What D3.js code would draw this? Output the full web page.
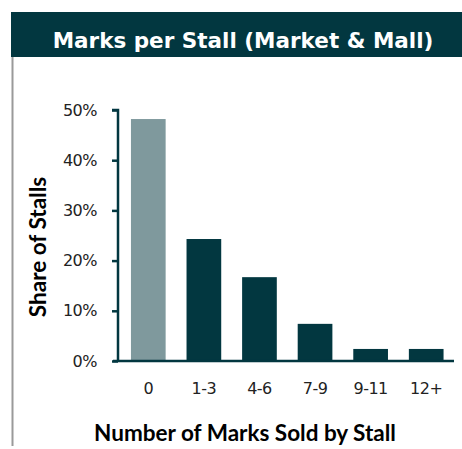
<!DOCTYPE html>
<html>
<head>
<meta charset="utf-8">
<script src="https://cdn.jsdelivr.net/npm/d3@7"></script>
<style>
  body { margin: 0; background: #fff; }
  svg { display: block; }
</style>
</head>
<body>
<div id="chart"></div>
<script>
// data
const categories = ["0", "1-3", "4-6", "7-9", "9-11", "12+"];
const shares = [0.482, 0.243, 0.167, 0.074, 0.024, 0.024];
const yTicks = [0, 0.1, 0.2, 0.3, 0.4, 0.5];

const width = 462, height = 449;
const dark = "#023740", grey = "#7f999d";

const svg = d3.select("#chart")
    .append("svg")
    .attr("width", width)
    .attr("height", height);

// header band + left rule
svg.append("rect")
    .attr("x", 11).attr("y", 12)
    .attr("width", width - 11).attr("height", 45)
    .attr("fill", dark);
svg.append("line")
    .attr("x1", 12.5).attr("x2", 12.5)
    .attr("y1", 57).attr("y2", 446)
    .attr("stroke", "#9a9a9a").attr("stroke-width", 2);

svg.append("text")
    .attr("x", 243).attr("y", 48)
    .attr("text-anchor", "middle")
    .attr("fill", "#fff")
    .style("font", "bold 21.5px 'DejaVu Sans'")
    .text("Marks per Stall (Market & Mall)");

const x = d3.scaleBand()
    .domain(categories)
    .range([120.5, 454])
    .paddingInner(0.376)
    .paddingOuter(0.188);

const y = d3.scaleLinear()
    .domain([0, 0.5])
    .range([361, 110]);

// bars
svg.selectAll("rect.bar")
    .data(shares)
    .enter()
    .append("rect")
    .attr("class", "bar")
    .attr("x", (d, i) => x(categories[i]))
    .attr("y", d => y(d))
    .attr("width", x.bandwidth())
    .attr("height", d => y(0) - y(d))
    .attr("fill", (d, i) => i === 0 ? grey : dark);

// y axis
const yAxis = svg.append("g")
    .attr("transform", "translate(118,0)")
    .call(d3.axisLeft(y).tickValues(yTicks).tickFormat(d3.format(".0%")).tickSize(6).tickPadding(15));
yAxis.select(".domain").attr("stroke", dark).attr("stroke-width", 2.5).attr("d", "M-6,110H0V361");
yAxis.selectAll(".tick line").attr("stroke", dark).attr("stroke-width", 2.5);
yAxis.selectAll(".tick text")
    .attr("fill", "#222")
    .style("font", "16px 'DejaVu Sans'")
    .style("letter-spacing", "-0.5px");

// x axis line
const xAxis = svg.append("g")
    .attr("transform", "translate(0,361)")
    .call(d3.axisBottom(x).tickSize(0).tickPadding(22));
xAxis.select(".domain").attr("stroke", dark).attr("stroke-width", 2.5).attr("d", "M113,0H454");
xAxis.selectAll(".tick text")
    .attr("fill", "#222")
    .style("font", "16px 'DejaVu Sans'")
    .style("letter-spacing", "-0.5px");

// axis titles
svg.append("text")
    .attr("transform", "translate(46,247) rotate(-90)")
    .attr("text-anchor", "middle")
    .attr("fill", "#000")
    .style("font", "bold 22.5px Lato")
    .text("Share of Stalls");

svg.append("text")
    .attr("x", 245).attr("y", 441)
    .attr("text-anchor", "middle")
    .attr("fill", "#000")
    .style("font", "bold 22.5px Lato")
    .text("Number of Marks Sold by Stall");
</script>
</body>
</html>
